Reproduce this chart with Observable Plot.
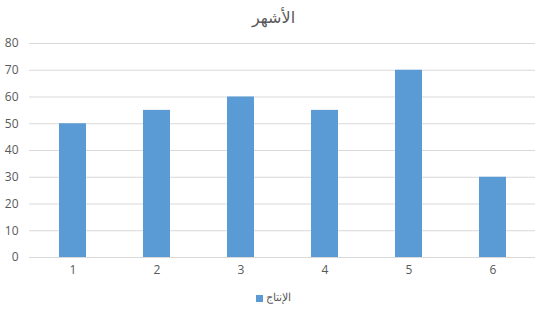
<!DOCTYPE html>
<html><head><meta charset="utf-8">
<script src="https://cdn.jsdelivr.net/npm/d3@7"></script>
<script src="https://cdn.jsdelivr.net/npm/@observablehq/plot@0.6"></script>
<style>
body{margin:0;background:#fff;font-family:"Open Sans","Liberation Sans",sans-serif;}
#wrap{width:547px;height:313px;position:relative;}
#title{height:32px;line-height:36px;text-align:center;font-size:16px;color:#595959;font-family:"DejaVu Sans","Noto Sans",sans-serif;}
#legend{position:absolute;top:289px;left:0;width:547px;text-align:center;font-size:11px;color:#595959;}
#legend span.sw{display:inline-block;width:7px;height:7px;background:#5B9BD5;margin-right:3px;vertical-align:middle;}
</style></head>
<body><div id="wrap"><div id="title" dir="rtl">الأشهر</div><div id="chart"></div>
<div id="legend"><span class="sw"></span><span dir="rtl">الإنتاج</span></div></div>
<script>
const months = ["1","2","3","4","5","6"];
const production = [50,55,60,55,70,30];
const yTicks = [0,10,20,30,40,50,60,70,80];
const data = months.map((m,i)=>({month:m, value:production[i]}));
const chart = Plot.plot({
  width:547, height:250,
  marginTop:11, marginLeft:29, marginRight:12, marginBottom:25,
  style:{fontFamily:"'Open Sans','Liberation Sans',sans-serif", fontSize:"12px", color:"#595959", background:"#fff"},
  x:{domain:months, paddingInner:0.68, paddingOuter:0.34, label:null, tickSize:0, tickPadding:8},
  y:{domain:[0,80], ticks:yTicks, label:null, tickSize:0, tickPadding:11},
  marks:[
    Plot.gridY(yTicks,{stroke:"#d9d9d9", strokeOpacity:1}),
    Plot.barY(data,{x:"month", y:"value", fill:"#5B9BD5"}),
    Plot.ruleY([0],{stroke:"#d9d9d9"})
  ]
});
document.getElementById("chart").appendChild(chart);
</script></body></html>
